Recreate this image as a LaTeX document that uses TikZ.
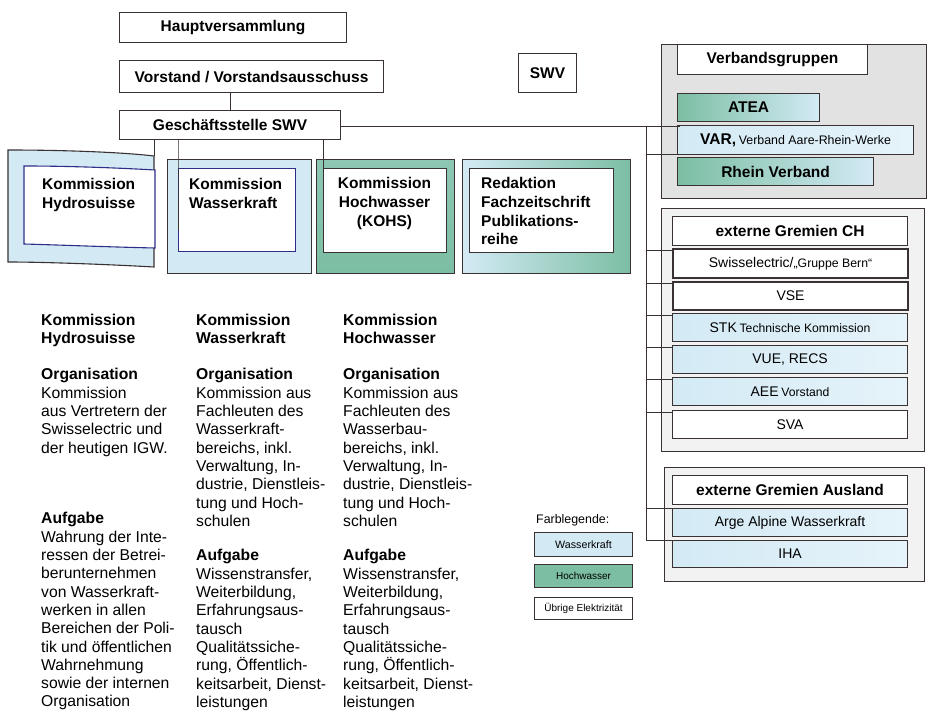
\documentclass[tikz,border=0pt]{standalone}
\usepackage{fontspec}
\setmainfont{Liberation Sans}
\usetikzlibrary{calc}
\definecolor{bc}{HTML}{3A3232}
\definecolor{lb}{HTML}{D3EAF5}
\definecolor{lb2}{HTML}{E6F3FA}
\definecolor{tl}{HTML}{7BBEA3}
\definecolor{gp}{HTML}{E2E2E2}
\definecolor{nv}{HTML}{2E2E88}
\definecolor{pg}{HTML}{F2F2F2}
\newcommand\fs[2]{\fontsize{#1}{#2}\selectfont}
\begin{document}
\begin{tikzpicture}[x=1pt,y=-1pt,
 bx/.style={draw=bc, line width=1.1pt, inner sep=0pt, anchor=north west, align=center},
 ln/.style={draw=bc, line width=1pt},
 tx/.style={inner sep=0pt, anchor=north west, align=left},
 thick box/.style={line width=2pt},
 ttl/.style={font=\fs{15.5}{18.6}\bfseries},
 sm/.style={font=\fs{14}{16}},
 col/.style={tx, font=\fs{15.7}{18.3}},
]
\fill[white] (0,0) rectangle (934,711);
\useasboundingbox (0,0) rectangle (934,711);

% --- top boxes
\node[bx, ttl, minimum width=227pt, minimum height=30pt] (hv) at (119,12) {Hauptversammlung};
\node[bx, ttl, minimum width=264pt, minimum height=32pt] (vor) at (119,60) {Vorstand / Vorstandsausschuss};
\node[bx, ttl, minimum width=221pt, minimum height=29pt] (ges) at (119,110) {Geschäftsstelle SWV};
\node[bx, ttl, minimum width=58pt, minimum height=39pt] (swv) at (518,53) {SWV};

% --- Kommission Hydrosuisse (curled page)
\filldraw[fill=lb, draw=bc, line width=1.1pt] (8,150) .. controls (60,150) and (120,152) .. (154,156) -- (154,267) .. controls (100,264) and (40,262) .. (8,262) -- cycle;
\filldraw[fill=white, draw=nv, line width=1.1pt] (24,166) .. controls (70,166) and (120,168) .. (155,170) -- (155,248) .. controls (110,247) and (60,245) .. (24,244) -- cycle;
\coordinate (hydtop) at (154,156);
\node[tx, ttl] (khs) at (42,178.5) {Kommission\\Hydrosuisse};

% --- Kommission Wasserkraft
\node[bx, fill=lb, minimum width=144pt, minimum height=114pt] (wko) at (167,159) {};
\node[bx, draw=nv, fill=white, minimum width=117pt, minimum height=83pt] (wki) at (178,168) {};
\node[tx, ttl] (kwk) at (189,178.5) {Kommission\\Wasserkraft};

% --- Kommission Hochwasser
\node[bx, top color=tl!80!lb, bottom color=tl, minimum width=138pt, minimum height=114pt] (hwo) at (316,159) {};
\node[bx, fill=white, minimum width=123pt, minimum height=84pt] (hwi) at (323,168) {};
\node[inner sep=0pt, anchor=north, align=center, ttl] (khw) at (384.5,177.5) {Kommission\\Hochwasser\\(KOHS)};

% --- Redaktion
\node[bx, left color=lb, right color=tl, minimum width=168pt, minimum height=114pt] (rdo) at (462,159) {};
\node[bx, fill=white, minimum width=144pt, minimum height=84pt] (rdi) at (469,168) {};
\node[tx, ttl] (rdt) at (481,177.5) {Redaktion\\Fachzeitschrift\\Publikations-\\reihe};

% --- Verbandsgruppen panel
\node[bx, fill=gp, line width=1pt, minimum width=265pt, minimum height=154pt] (vgp) at (661,44) {};
\node[bx, ttl, fill=white, minimum width=190pt, minimum height=30pt] (vg) at (677,44) {Verbandsgruppen};
\node[bx, ttl, left color=tl, right color=lb, minimum width=142pt, minimum height=28pt] (atea) at (677,93) {ATEA};
\node[bx, left color=lb, right color=lb2, minimum width=236pt, minimum height=29pt] (var) at (677,125) {{\fs{15.5}{18}\bfseries VAR,} {\fs{12.4}{14}Verband Aare-Rhein-Werke}};
\node[bx, ttl, left color=tl, right color=lb, minimum width=196pt, minimum height=28pt] (rv) at (677,157) {Rhein Verband};

% --- externe Gremien CH
\node[bx, fill=pg, line width=1pt, minimum width=263pt, minimum height=243pt] (ech) at (661,208) {};
\node[bx, ttl, fill=white, minimum width=235pt, minimum height=29pt] (echh) at (672,216) {externe Gremien CH};
\node[bx, fill=white, thick box, minimum width=235pt, minimum height=29pt] (sw) at (672,248) {{\fs{14}{16}Swisselectric/}{\fs{12.3}{14}„Gruppe Bern“}};
\node[bx, sm, fill=white, thick box, minimum width=235pt, minimum height=28pt] (vse) at (672,281) {VSE};
\node[bx, left color=lb, right color=lb2, minimum width=235pt, minimum height=28pt] (stk) at (672,313) {{\fs{14}{16}STK} {\fs{12.2}{14}Technische Kommission}};
\node[bx, sm, left color=lb, right color=lb2, minimum width=235pt, minimum height=28pt] (vue) at (672,345) {VUE, RECS};
\node[bx, left color=lb, right color=lb2, minimum width=235pt, minimum height=28pt] (aee) at (672,377) {{\fs{14}{16}AEE} {\fs{12.2}{14}Vorstand}};
\node[bx, sm, fill=white, minimum width=235pt, minimum height=28pt] (sva) at (672,410) {SVA};

% --- externe Gremien Ausland
\node[bx, fill=pg, line width=1pt, minimum width=260pt, minimum height=114pt] (eau) at (664,467) {};
\node[bx, ttl, fill=white, minimum width=235pt, minimum height=29pt] (eauh) at (672,475) {externe Gremien Ausland};
\node[bx, sm, left color=lb, right color=lb2, minimum width=235pt, minimum height=28pt] (arge) at (672,508) {Arge Alpine Wasserkraft};
\node[bx, sm, left color=lb, right color=lb2, minimum width=235pt, minimum height=27pt] (iha) at (672,540) {IHA};

% --- connectors
\draw[ln] (ges.north) -- (ges.north |- vor.south);
\coordinate (bt) at (646,126.5);
\draw[ln] (ges.east |- bt) -- (bt) -- ($(bt -| var.west)+(3,0)$);
\draw[ln] (bt) -- (bt |- iha.north west);
\path ($(rv.north west)+(0,-2)$) coordinate (rvc);
\draw[ln] (bt |- rvc) -- (rvc);
\foreach \n in {sw,vse,stk,vue,aee,sva}{
  \path ($(\n.north west)+(0,2.5)$) coordinate (tmp);
  \draw[ln] (bt |- tmp) -- (tmp);
}
\draw[ln] (bt |- arge.north west) -- (arge.north west);
\draw[ln] (bt |- iha.north west) -- (iha.north west);
\draw[ln] (ges.south -| hydtop) -- (hydtop);
\draw[ln] (ges.south -| wki.north west) -- (wki.north west) -- ($(wki.north west)+(0,62)$);
\draw[ln] (ges.south -| hwi.north west) -- (hwi.north west);

% --- legend
\node[inner sep=0pt, anchor=west, font=\fs{12.4}{14}] (fl) at (536,520) {Farblegende:};
\node[bx, fill=lb, minimum width=98pt, minimum height=24pt, font=\fs{10.7}{12}] (lw) at (534,532) {Wasserkraft};
\node[bx, fill=tl, minimum width=98pt, minimum height=23pt, font=\fs{10}{12}] (lh) at (534,564) {Hochwasser};
\node[bx, fill=white, minimum width=98pt, minimum height=22pt, font=\fs{10}{12}] (lu) at (534,597) {Übrige Elektrizität};

% --- text columns
\node[col] (c1) at (41,313.5) {\textbf{Kommission}\\\textbf{Hydrosuisse}\\[18.3pt]\textbf{Organisation}\\Kommission\\aus Vertretern der\\Swisselectric und\\der heutigen IGW.\\[52.5pt]\textbf{Aufgabe}\\Wahrung der Inte-\\ressen der Betrei-\\berunternehmen\\von Wasserkraft-\\werken in allen\\Bereichen der Poli-\\tik und öffentlichen\\Wahrnehmung\\sowie der internen\\Organisation};
\node[col] (c2) at (196,313.5) {\textbf{Kommission}\\\textbf{Wasserkraft}\\[18.3pt]\textbf{Organisation}\\Kommission aus\\Fachleuten des\\Wasserkraft-\\bereichs, inkl.\\Verwaltung, In-\\dustrie, Dienstleis-\\tung und Hoch-\\schulen\\[16.3pt]\textbf{Aufgabe}\\Wissenstransfer,\\Weiterbildung,\\Erfahrungsaus-\\tausch\\Qualitätssiche-\\rung, Öffentlich-\\keitsarbeit, Dienst-\\leistungen};
\node[col] (c3) at (343,313.5) {\textbf{Kommission}\\\textbf{Hochwasser}\\[18.3pt]\textbf{Organisation}\\Kommission aus\\Fachleuten des\\Wasserbau-\\bereichs, inkl.\\Verwaltung, In-\\dustrie, Dienstleis-\\tung und Hoch-\\schulen\\[16.3pt]\textbf{Aufgabe}\\Wissenstransfer,\\Weiterbildung,\\Erfahrungsaus-\\tausch\\Qualitätssiche-\\rung, Öffentlich-\\keitsarbeit, Dienst-\\leistungen};
\end{tikzpicture}
\end{document}
